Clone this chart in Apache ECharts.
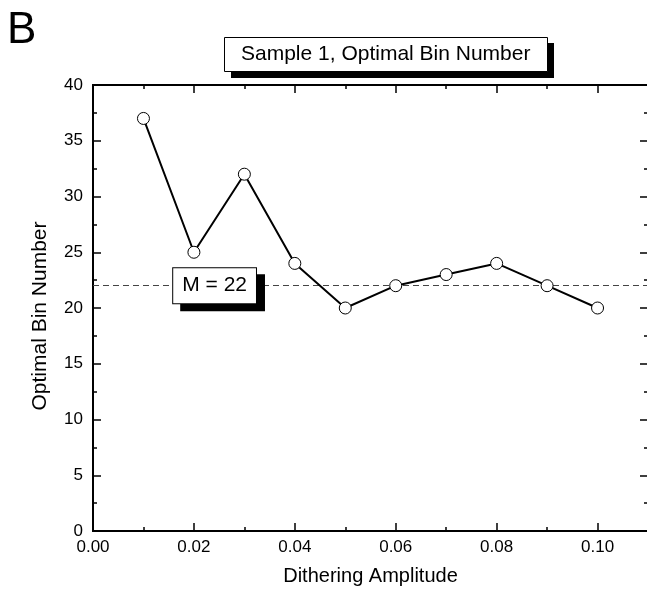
<!DOCTYPE html>
<html>
<head>
<meta charset="utf-8">
<script src="https://cdn.jsdelivr.net/npm/echarts@6/dist/echarts.min.js"></script>
<style>
html,body{margin:0;padding:0;background:#fff;overflow:hidden;}
#chart{width:647px;height:592px;}
</style>
</head>
<body>
<div id="chart"></div>
<script>
// Data
const amplitudes = [0.01, 0.02, 0.03, 0.04, 0.05, 0.06, 0.07, 0.08, 0.09, 0.10];
const binNumbers = [37, 25, 32, 24, 20, 22, 23, 24, 22, 20];
const meanValue = 22;
const meanLabelX = 0.0241;
const xTicks = [0, 0.11, 0.02];   // min, max, major interval
const yTicks = [0, 40, 5];        // min, max, major interval
const titleText = 'Sample 1, Optimal Bin Number';
const panelLetter = 'B';
const xName = 'Dithering Amplitude';
const yName = 'Optimal Bin Number';

const FONT = 'Liberation Sans, Arial, Helvetica, sans-serif';
const chart = echarts.init(document.getElementById('chart'), null, {renderer: 'canvas'});

const axisLine = {show: true, onZero: false, lineStyle: {color: '#000', width: 2}};
const grid = {left: 93, top: 85, width: 555, height: 446, outerBoundsMode: 'none', containLabel: false};

function xAxisDef(pos, major, labels) {
  return {
    type: 'value', position: pos, gridIndex: 0,
    min: xTicks[0], max: xTicks[1], interval: major ? xTicks[2] : xTicks[2] / 2,
    axisLine: axisLine,
    axisTick: {show: true, inside: true, length: major ? 8 : 4, lineStyle: {color: '#000', width: 1.5}},
    axisLabel: labels ? {
      show: true, margin: 8, color: '#000', fontFamily: FONT, fontSize: 17,
      formatter: v => (v > 0.105 ? '' : v.toFixed(2))
    } : {show: false},
    splitLine: {show: false},
    name: labels ? xName : '',
    nameLocation: 'middle', nameGap: 35,
    nameTextStyle: {color: '#000', fontFamily: FONT, fontSize: 20}
  };
}
function yAxisDef(pos, labels) {
  return {
    type: 'value', position: pos, gridIndex: 0,
    min: yTicks[0], max: yTicks[1], interval: yTicks[2],
    axisLine: axisLine,
    axisTick: {show: true, inside: true, length: 8, lineStyle: {color: '#000', width: 1.5}},
    minorTick: {show: true, splitNumber: 2, length: 4, lineStyle: {color: '#000', width: 1.5}},
    axisLabel: labels ? {show: true, margin: 10, color: '#000', fontFamily: FONT, fontSize: 17} : {show: false},
    splitLine: {show: false}, minorSplitLine: {show: false},
    name: labels ? yName : '',
    nameLocation: 'middle', nameGap: 42, nameRotate: 90,
    nameTextStyle: {color: '#000', fontFamily: FONT, fontSize: 21, padding: [0, 16, 0, 0]}
  };
}

const option = {
  backgroundColor: '#fff',
  animation: false,
  title: {
    text: titleText,
    left: 224, top: 37,
    padding: [7, 17, 7, 17],
    backgroundColor: '#fff',
    borderColor: '#000', borderWidth: 1,
    z: 10,
    textStyle: {color: '#000', fontFamily: FONT, fontSize: 21, lineHeight: 21, fontWeight: 'normal'}
  },
  graphic: [
    {
      type: 'text', left: 7, top: 9,
      style: {text: panelLetter, fill: '#000', font: '44px ' + FONT}
    },
    {
      // drop shadow of the title box
      type: 'rect', left: 231, top: 43, z: 1,
      shape: {width: 323, height: 35},
      style: {fill: '#000'}
    }
  ],
  grid: grid,
  xAxis: [
    xAxisDef('bottom', true, true),
    xAxisDef('bottom', false, false),
    xAxisDef('top', true, false),
    xAxisDef('top', false, false)
  ],
  yAxis: [
    yAxisDef('left', true),
    yAxisDef('right', false)
  ],
  series: [{
    type: 'line',
    xAxisIndex: 0, yAxisIndex: 0,
    data: amplitudes.map((a, i) => [a, binNumbers[i]]),
    symbol: 'circle', symbolSize: 12,
    itemStyle: {color: '#fff', borderColor: '#000', borderWidth: 1},
    lineStyle: {color: '#000', width: 2},
    z: 5,
    markLine: {
      silent: true, symbol: 'none',
      label: {show: false},
      lineStyle: {color: '#444', type: [6, 4], width: 1},
      data: [{yAxis: meanValue}],
      z: 2
    },
    markPoint: {
      silent: true,
      symbol: 'rect', symbolSize: 0,
      z: 10,
      data: [{
        coord: [meanLabelX, meanValue],
        label: {
          show: true, position: 'inside',
          formatter: 'M = ' + meanValue,
          color: '#000', fontFamily: FONT, fontSize: 21, lineHeight: 21,
          backgroundColor: '#fff', borderColor: '#000', borderWidth: 1,
          padding: [7, 9, 7, 9],
          shadowColor: '#000', shadowBlur: 0, shadowOffsetX: 8, shadowOffsetY: 7
        }
      }]
    }
  }]
};
chart.setOption(option);
</script>
</body>
</html>
